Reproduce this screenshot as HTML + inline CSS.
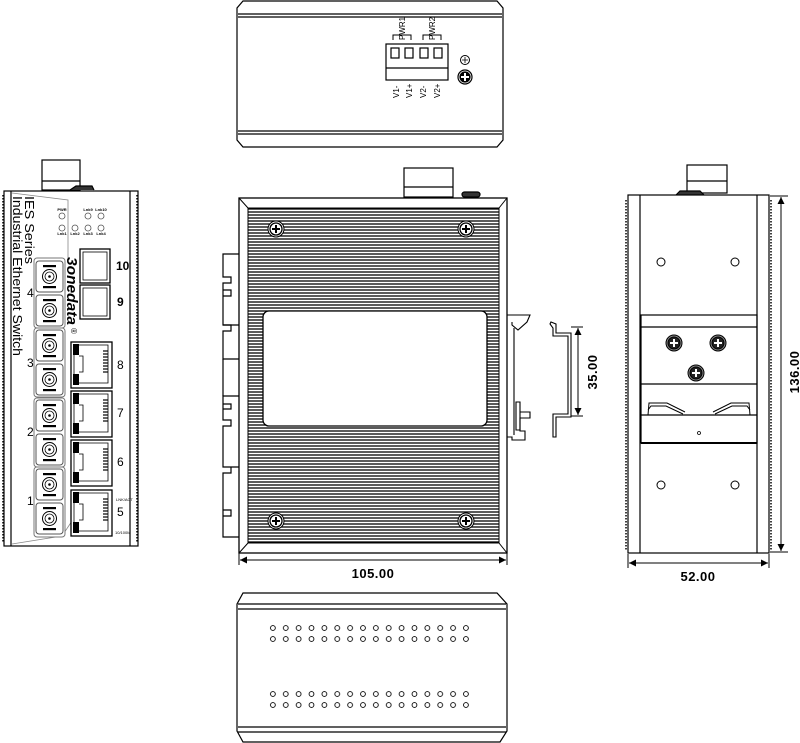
<!DOCTYPE html>
<html><head><meta charset="utf-8"><style>
html,body{margin:0;padding:0;background:#fff;}
svg{display:block;}
text{font-family:"Liberation Sans",Arial,sans-serif;}
</style></head><body>
<svg width="800" height="743" viewBox="0 0 800 743" xmlns="http://www.w3.org/2000/svg">
<defs>
<pattern id="ribs" x="0" y="208" width="10" height="3" patternUnits="userSpaceOnUse">
<line x1="0" y1="1" x2="10" y2="1" stroke="#000" stroke-width="1.3"/>
</pattern>
<pattern id="dots" x="266.5" y="0" width="12.87" height="800" patternUnits="userSpaceOnUse">
<circle cx="6.4" cy="628" r="2.4" fill="none" stroke="#000" stroke-width="0.9"/>
<circle cx="6.4" cy="639" r="2.4" fill="none" stroke="#000" stroke-width="0.9"/>
<circle cx="6.4" cy="694" r="2.4" fill="none" stroke="#000" stroke-width="0.9"/>
<circle cx="6.4" cy="705" r="2.4" fill="none" stroke="#000" stroke-width="0.9"/>
</pattern>
<g id="fib">
<rect x="0" y="0" width="27" height="31" rx="3" fill="#fff" stroke="#555" stroke-width="1"/>
<rect x="7" y="4" width="13" height="2.2" fill="#000"/>
<rect x="7" y="25" width="13" height="2.2" fill="#000"/>
<circle cx="13.5" cy="15.5" r="7" fill="#fff" stroke="#000" stroke-width="1"/>
<circle cx="13.5" cy="15.5" r="4.5" fill="#fff" stroke="#000" stroke-width="0.8"/>
<circle cx="13.5" cy="15.5" r="1.3" fill="#000"/>
</g>
<g id="rj">
<rect x="0" y="0" width="41" height="46" fill="#fff" stroke="#000" stroke-width="1.3"/>
<path d="M3,3 H37 V41 H3 Z" fill="none" stroke="#000" stroke-width="0.8"/>
<rect x="2" y="2" width="6" height="11" fill="#000"/>
<rect x="2" y="32" width="6" height="11" fill="#000"/>
<path d="M8,14 H12 V30 H8" fill="none" stroke="#000" stroke-width="0.8"/>
<g stroke="#000" stroke-width="1.2">
<line x1="32" y1="9" x2="37" y2="9"/><line x1="32" y1="12" x2="37" y2="12"/><line x1="32" y1="15" x2="37" y2="15"/><line x1="32" y1="18" x2="37" y2="18"/>
<line x1="32" y1="21" x2="37" y2="21"/><line x1="32" y1="24" x2="37" y2="24"/><line x1="32" y1="27" x2="37" y2="27"/><line x1="32" y1="30" x2="37" y2="30"/>
</g>
</g>
<g id="scr">
<circle r="8" fill="#fff" stroke="#000" stroke-width="1"/>
<circle r="6" fill="#fff" stroke="#000" stroke-width="1.3"/>
<path d="M-4,0 H4 M0,-4 V4" stroke="#000" stroke-width="2"/>
</g>
<g id="scr2">
<circle r="8" fill="#888" stroke="#000" stroke-width="1"/>
<circle r="6" fill="#222" stroke="#000" stroke-width="1"/>
<path d="M-4,0 H4 M0,-4 V4" stroke="#fff" stroke-width="2"/>
</g>
<marker id="ar" viewBox="0 0 10 10" refX="10" refY="5" markerWidth="9" markerHeight="7" orient="auto-start-reverse" markerUnits="userSpaceOnUse"><path d="M0,0 L10,5 L0,10 Z" fill="#000"/></marker>
</defs>

<g fill="none" stroke="#000" stroke-width="1.2">
<path d="M243,1 H497 L503,8 V140 L497,147 H243 L237,140 V8 Z"/>
<line x1="238" y1="14" x2="502" y2="14"/><line x1="238" y1="17" x2="502" y2="17"/>
<line x1="238" y1="131" x2="502" y2="131"/><line x1="238" y1="134" x2="502" y2="134"/>
<rect x="386" y="44" width="62" height="36"/>
<line x1="386" y1="68" x2="448" y2="68"/>
<rect x="391" y="48" width="8" height="10"/><rect x="405" y="48" width="8" height="10"/>
<rect x="420" y="48" width="8" height="10"/><rect x="434" y="48" width="8" height="10"/>
<path d="M393,40 V35 H411 V40" stroke-width="1"/><path d="M423,40 V35 H441 V40" stroke-width="1"/>
<circle cx="465" cy="60" r="4.5" stroke-width="1"/>
<circle cx="465" cy="77" r="7" fill="#fff" stroke-width="1.2"/>
<circle cx="465" cy="77" r="5" fill="#000"/>
<path d="M461,77 H469 M465,73 V81" stroke="#fff" stroke-width="2"/>
</g>
<path d="M462,60 H468 M465,57 V63" stroke="#000" stroke-width="0.8"/>
<g font-size="8" fill="#000">
<text transform="translate(405,40) rotate(-90)">PWR1</text>
<text transform="translate(435,40) rotate(-90)">PWR2</text>
<text transform="translate(399,98) rotate(-90)">V1-</text>
<text transform="translate(412,98) rotate(-90)">V1+</text>
<text transform="translate(426,98) rotate(-90)">V2-</text>
<text transform="translate(440,98) rotate(-90)">V2+</text>
</g>

<g fill="none" stroke="#000" stroke-width="1.2">
<path d="M243,593 H497 L507,604 V731 L500,742 H243 L237,731 V604 Z"/>
<line x1="238" y1="604" x2="506" y2="604"/><line x1="238" y1="609" x2="506" y2="609"/>
<line x1="238" y1="727" x2="506" y2="727"/><line x1="238" y1="732" x2="506" y2="732"/>
</g>
<rect x="266.5" y="620" width="205.9" height="92" fill="url(#dots)"/>

<g fill="none" stroke="#000" stroke-width="1.2">
<rect x="404" y="168" width="49" height="29" fill="#fff"/>
<line x1="404" y1="187" x2="453" y2="187"/>
<rect x="462" y="192" width="18" height="5" rx="2.5" fill="#333"/>
<path d="M239,254 H223 V277 H231 V283 H223 V325 H231 V331 H223 V359 H239"/>
<path d="M239,325 H223 M239,396 H223 V420 H231 V426 H223 V467 H231 V473 H223 V537 H239 M239,467 H223"/>
<path d="M223,396 V359"/>
<path d="M223,290 H231 V296 H223 M223,404 H231 V409 H223 M223,510 H231 V516 H223"/>
</g>
<rect x="239" y="198" width="268" height="355" fill="#fff" stroke="#000" stroke-width="1.3"/>
<rect x="248" y="208" width="251" height="335" fill="url(#ribs)" stroke="#000" stroke-width="1"/>
<g stroke="#000" stroke-width="1"><line x1="239" y1="198" x2="248" y2="208"/><line x1="507" y1="198" x2="499" y2="208"/><line x1="239" y1="553" x2="248" y2="543"/><line x1="507" y1="553" x2="499" y2="543"/></g>
<rect x="263" y="311" width="224" height="115" rx="6" fill="#fff" stroke="#000" stroke-width="1.3"/>
<use href="#scr" x="276" y="229"/><use href="#scr" x="466" y="229"/>
<use href="#scr" x="276" y="521"/><use href="#scr" x="466" y="521"/>
<g stroke="#000" stroke-width="1">
<line x1="239" y1="553" x2="239" y2="565"/><line x1="507" y1="553" x2="507" y2="565"/>
<line x1="240" y1="560" x2="506" y2="560" marker-start="url(#ar)" marker-end="url(#ar)"/>
</g>
<text x="373" y="578" font-size="13" font-weight="bold" text-anchor="middle" letter-spacing="0.5">105.00</text>

<g fill="none" stroke="#000" stroke-width="1.1">
<path d="M507,315 H530 L527,322 L518,330 L512,325 V322 M514,328 V435 M507,437 H512 V440 H525 V431 H520 V418 H530 V412 H520"/>
<path d="M516,402 H520 V430 H516 Z"/>
<path d="M551,322 L556,324 V333 H571 V417 H556 V437 H553 V414 H568 V336 H553 V328 L550,324 Z"/>
</g>
<g stroke="#000" stroke-width="1">
<line x1="571" y1="327" x2="583" y2="327"/><line x1="571" y1="416" x2="583" y2="416"/>
<line x1="578" y1="328" x2="578" y2="415" marker-start="url(#ar)" marker-end="url(#ar)"/>
</g>
<text transform="translate(597,372) rotate(-90)" font-size="13" font-weight="bold" text-anchor="middle" letter-spacing="0.5">35.00</text>

<g fill="none" stroke="#000" stroke-width="1.2">
<rect x="687" y="165" width="40" height="28" fill="#fff"/>
<line x1="687" y1="181" x2="727" y2="181"/>
<path d="M676,195 L680,191 H700 L704,195" fill="#333"/>
<rect x="628" y="195" width="141" height="358" fill="#fff"/>
<line x1="640" y1="195" x2="640" y2="553"/><line x1="757" y1="195" x2="757" y2="553"/>
<line x1="626" y1="200" x2="626" y2="550" stroke-width="1.5" stroke-dasharray="1.5 1.5"/>
<line x1="771" y1="200" x2="771" y2="550" stroke-width="1.5" stroke-dasharray="1.5 1.5"/>
<circle cx="661" cy="262" r="4" stroke-width="1"/><circle cx="735" cy="262" r="4" stroke-width="1"/>
<circle cx="661" cy="485" r="4" stroke-width="1"/><circle cx="735" cy="485" r="4" stroke-width="1"/>
<rect x="641" y="315" width="116" height="128"/>
<line x1="641" y1="327" x2="757" y2="327"/>
<line x1="641" y1="384" x2="757" y2="384"/>
<line x1="641" y1="415" x2="757" y2="415"/>
<line x1="641" y1="443" x2="757" y2="443" stroke-width="2"/>
<path d="M648,415 L649,403 H667 L685,412 M648,410 L651,406 H666 L683,414" stroke-width="1"/>
<path d="M750,415 L749,403 H731 L713,412 M750,410 L747,406 H732 L715,414" stroke-width="1"/>
<circle cx="699" cy="433" r="1.5" stroke-width="0.8"/>
</g>
<use href="#scr2" x="674" y="343"/><use href="#scr2" x="718" y="343"/><use href="#scr2" x="696" y="373"/>
<g stroke="#000" stroke-width="1">
<line x1="770" y1="196" x2="788" y2="196"/><line x1="770" y1="552" x2="788" y2="552"/>
<line x1="781" y1="197" x2="781" y2="551" marker-start="url(#ar)" marker-end="url(#ar)"/>
<line x1="628" y1="554" x2="628" y2="568"/><line x1="769" y1="554" x2="769" y2="568"/>
<line x1="629" y1="563" x2="768" y2="563" marker-start="url(#ar)" marker-end="url(#ar)"/>
</g>
<text transform="translate(799,372) rotate(-90)" font-size="13" font-weight="bold" text-anchor="middle" letter-spacing="0.5">136.00</text>
<text x="698" y="581" font-size="13" font-weight="bold" text-anchor="middle" letter-spacing="0.5">52.00</text>

<g fill="none" stroke="#000" stroke-width="1.2">
<rect x="42" y="160" width="38" height="30" fill="#fff"/>
<line x1="42" y1="181" x2="80" y2="181"/>
<path d="M70,190 L76,186 H92 L94,190" fill="#333"/>
<rect x="4" y="191" width="134" height="355" fill="#fff"/>
<line x1="11" y1="191" x2="11" y2="546"/><line x1="130" y1="191" x2="130" y2="546"/>
<line x1="3" y1="195" x2="3" y2="543" stroke-width="1.5" stroke-dasharray="1.5 1.5"/>
<line x1="137" y1="195" x2="137" y2="543" stroke-width="1.5" stroke-dasharray="1.5 1.5"/>
<path d="M12,193 L68,200 V258 M12,544 L62,536 L72,521" stroke="#888" stroke-width="0.8"/>
</g>
<g fill="#000">
<text transform="translate(25,196) rotate(90)" font-size="13" textLength="68" lengthAdjust="spacingAndGlyphs">IES Series</text>
<text transform="translate(13,196) rotate(90)" font-size="13" textLength="160" lengthAdjust="spacingAndGlyphs">Industrial Ethernet Switch</text>
<text transform="translate(67,257) rotate(90)" font-size="15" font-weight="bold" font-style="italic" textLength="68" lengthAdjust="spacingAndGlyphs">3onedata</text>
<text transform="translate(71,328) rotate(90)" font-size="8">®</text>
</g>
<g fill="none" stroke="#555" stroke-width="0.8">
<circle cx="62" cy="216" r="3"/><circle cx="88" cy="216" r="3"/><circle cx="101" cy="216" r="3"/>
<circle cx="62" cy="228" r="3"/><circle cx="75" cy="228" r="3"/><circle cx="88" cy="228" r="3"/><circle cx="101" cy="228" r="3"/>
</g>
<g font-size="4" font-weight="bold" fill="#000" text-anchor="middle">
<text x="62" y="211">PWR</text><text x="88" y="211">Lnk9</text><text x="101" y="211">Lnk10</text>
<text x="62" y="235">Lnk1</text><text x="75" y="235">Lnk2</text><text x="88" y="235">Lnk3</text><text x="101" y="235">Lnk4</text>
</g>
<g fill="#fff" stroke="#000">
<rect x="80" y="249" width="30" height="34" stroke-width="1.3"/><rect x="83" y="252" width="24" height="28" stroke-width="0.8"/>
<rect x="80" y="285" width="30" height="34" stroke-width="1.3"/><rect x="83" y="288" width="24" height="28" stroke-width="0.8"/>
</g>
<g fill="#fff" stroke="#777" stroke-width="1">
<rect x="34" y="258" width="31" height="70" rx="3"/>
<rect x="34" y="328" width="31" height="69" rx="3"/>
<rect x="34" y="398" width="31" height="69" rx="3"/>
<rect x="34" y="467" width="31" height="70" rx="3"/>
</g>
<use href="#fib" x="36" y="261"/><use href="#fib" x="36" y="295"/>
<use href="#fib" x="36" y="330"/><use href="#fib" x="36" y="364"/>
<use href="#fib" x="36" y="400"/><use href="#fib" x="36" y="434"/>
<use href="#fib" x="36" y="469"/><use href="#fib" x="36" y="503"/>
<use href="#rj" x="71" y="342"/><use href="#rj" x="71" y="391"/>
<use href="#rj" x="71" y="440"/><use href="#rj" x="71" y="490"/>
<g font-size="12" fill="#000">
<text x="27" y="297">4</text><text x="27" y="367">3</text><text x="27" y="436">2</text><text x="27" y="505">1</text>
<text x="116" y="270" font-weight="bold">10</text><text x="117" y="306" font-weight="bold">9</text>
<text x="117" y="369">8</text><text x="117" y="417">7</text><text x="117" y="466">6</text><text x="117" y="516">5</text>
</g>
<text x="116" y="501" font-size="4">LNK/ACT</text>
<text x="115" y="534" font-size="4">10/100M</text>
</svg>
</body></html>
